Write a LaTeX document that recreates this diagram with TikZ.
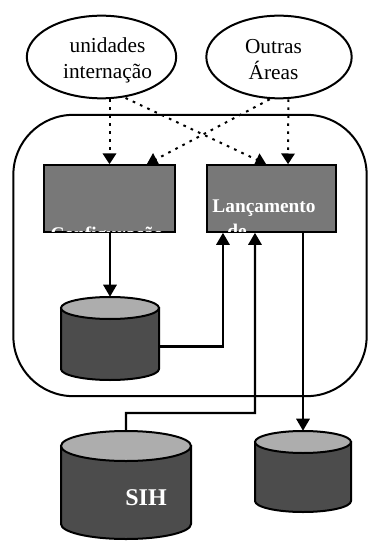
\documentclass[tikz,border=0pt]{standalone}
\usepackage{fontspec}
\setmainfont{Liberation Serif}
\usetikzlibrary{shapes.geometric,arrows.meta,positioning}
\definecolor{boxgray}{gray}{0.47}
\definecolor{bodygray}{gray}{0.30}
\definecolor{topgray}{gray}{0.68}
\tikzset{
  x=0.75pt,y=-0.75pt,
  source/.style={draw=black,line width=1.5pt,ellipse,fill=white,inner sep=0pt,minimum width=112pt,minimum height=62pt},
  sourcelabel/.style={align=center,font=\fontsize{16}{19.5}\selectfont,inner sep=0pt},
  process/.style={draw=black,line width=1.5pt,fill=boxgray,rectangle,inner sep=0pt,minimum height=50pt},
  storebox/.style={rectangle,inner sep=0pt},
  storebody/.style={draw=black,line width=1.5pt,fill=bodygray},
  storetop/.style={draw=black,line width=1.5pt,fill=topgray},
  flow/.style={draw=black,line width=1.6pt,-{Triangle[length=9pt,width=10pt]}},
  link/.style={draw=black,line width=1.5pt,dash pattern=on 2pt off 4pt,-{Triangle[length=8pt,width=10pt]}},
  boxlabel/.style={text=white,font=\fontsize{14.5}{18}\selectfont\bfseries,inner sep=0pt}
}
% name, centre x, top y, bottom y, half width, end half height (px)
\newcommand{\dbstore}[6]{%
  \node[storebox,minimum width={2*#5*0.75pt},minimum height={(#4-#3)*0.75pt}] (#1) at (#2,{(#3+#4)/2}) {};
  \draw[storebody] (#2-#5,#3+#6) -- (#2-#5,#4-#6) arc[start angle=180,end angle=360,x radius=#5,y radius=-#6] -- (#2+#5,#3+#6) -- cycle;
  \draw[storetop] (#2,#3+#6) ellipse[x radius=#5,y radius=-#6];
}
\begin{document}
\begin{tikzpicture}
\useasboundingbox (0,0) rectangle (367,541);
\fill[white] (0,0) rectangle (367,541);
\node[draw=black,line width=1.5pt,rounded corners=45pt,minimum width=265pt,minimum height=211pt,inner sep=0pt] (system) at (190,255.5) {};
\node[source] (unid) at (101.5,57) {};
\node[source,minimum width=109pt] (outras) at (279,57) {};
\node[sourcelabel] (unidl) at (107.5,60) {unidades\\internação};
\node[sourcelabel] (outrasl) at (273.5,60) {Outras\\Áreas};
\node[process,minimum width=98pt] (config) at (109.5,198.5) {};
\node[process,minimum width=97pt] (lanc) at (271.5,198.5) {};
\begin{scope}
\clip (44,165) rectangle (175,231.5);
\node[boxlabel,anchor=base] (configt) at (107,240) {Configuração};
\end{scope}
\begin{scope}
\clip (207,165) rectangle (336,231.5);
\node[boxlabel,anchor=base] (lanct) at (264,213) {Lançamento};
\node[boxlabel,anchor=base] (det) at (237,238) {de};
\end{scope}
\dbstore{db1}{110}{297}{380}{49}{11}
\dbstore{sih}{126}{431}{539}{65}{15}
\dbstore{db3}{303}{431}{512}{48}{11}
\node[anchor=base,text=white,font=\fontsize{18}{20}\selectfont\bfseries,inner sep=0pt] (sihl) at (146,505) {SIH};
\coordinate (bend) at (255,413);
\draw[flow] (config.south -| db1.north) -- (db1.north);
\draw[flow] ([yshift=-6pt]db1.east) -| ([xshift=-36.4pt]lanc.south);
\draw[flow] (sih.north) |- (bend) -- ([xshift=-12.4pt]lanc.south);
\draw[flow] (lanc.south -| db3.north) -- (db3.north);
\draw[link] (unid.south -| config.north) -- (config.north);
\draw[link] ([xshift=-7pt]outras.south) -- ([xshift=28pt]config.north);
\draw[link] ([xshift=18pt,yshift=1pt]unid.south) -- ([xshift=-4pt]lanc.north);
\draw[link] ([xshift=7pt]outras.south) -- ([xshift=12.4pt]lanc.north);
\end{tikzpicture}
\end{document}
